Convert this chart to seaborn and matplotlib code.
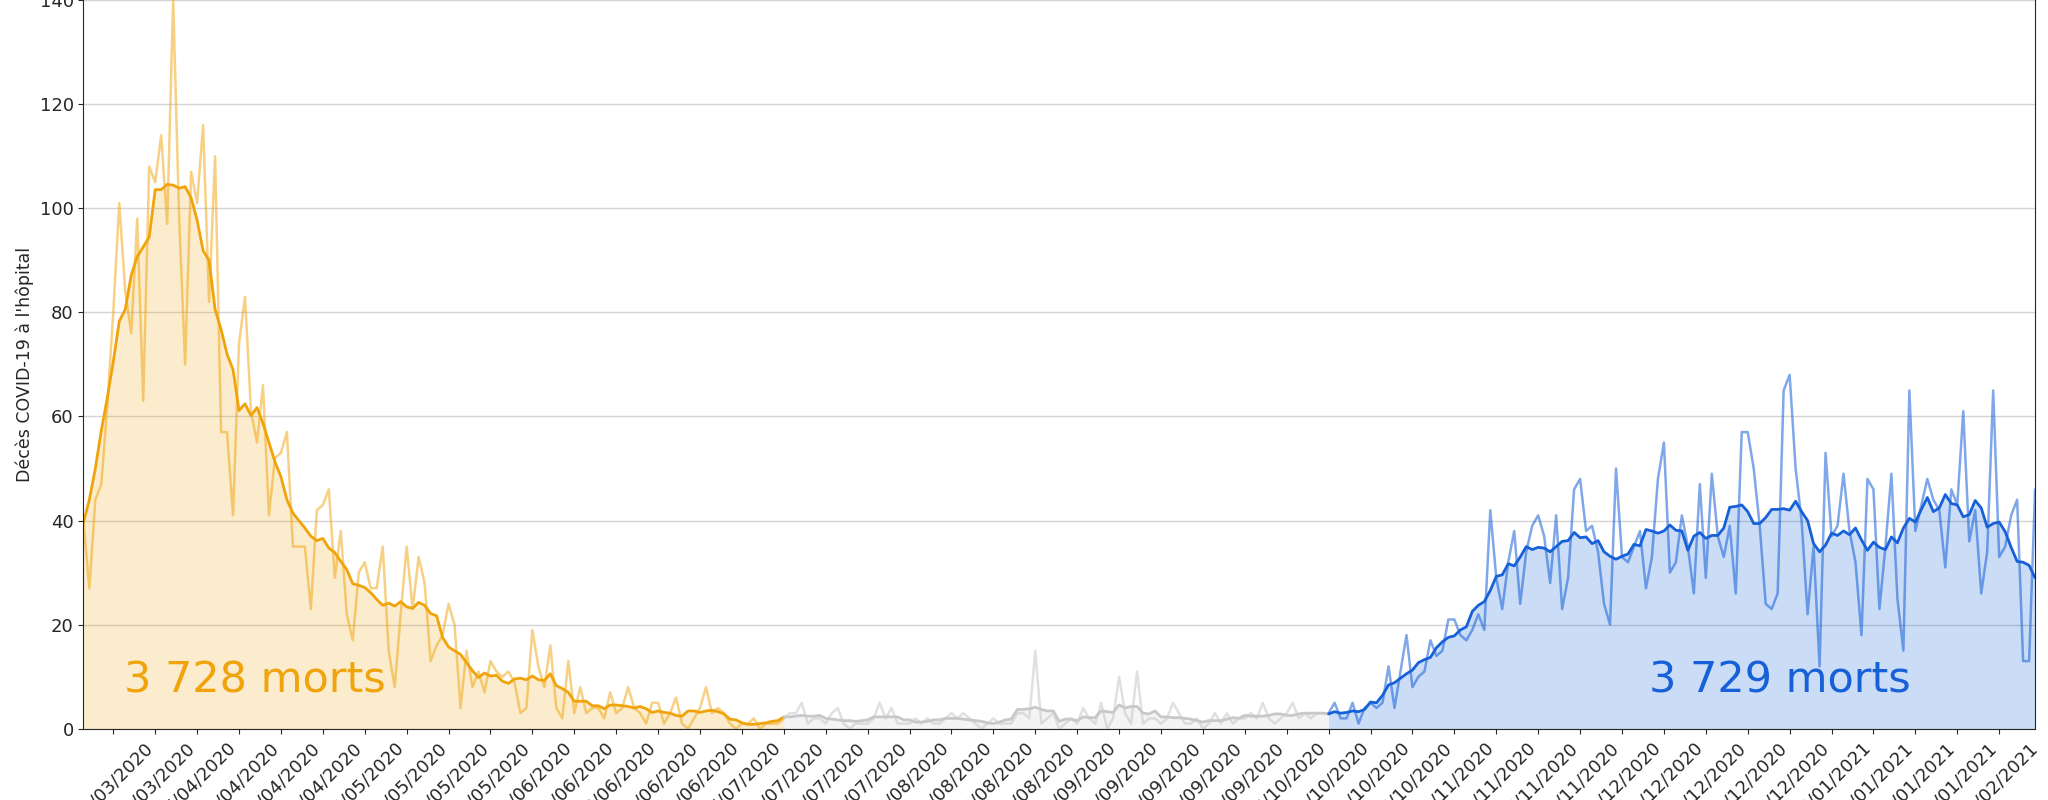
import pandas as pd
import seaborn as sns
import matplotlib
matplotlib.use("Agg")
import matplotlib.pyplot as plt
import matplotlib.dates as mdates

debut = "2020-03-19"

# décès quotidiens à l'hôpital - 1re vague (19/03/2020 -> 14/07/2020)
vague1 = [40, 27, 44, 47, 62, 80, 101, 84, 76, 98,
          63, 108, 105, 114, 97, 140, 98, 70, 107, 101,
          116, 82, 110, 57, 57, 41, 74, 83, 61, 55,
          66, 41, 52, 53, 57, 35, 35, 35, 23, 42,
          43, 46, 29, 38, 22, 17, 30, 32, 27, 27,
          35, 15, 8, 22, 35, 23, 33, 28, 13, 16,
          18, 24, 20, 4, 15, 8, 11, 7, 13, 11,
          10, 11, 9, 3, 4, 19, 12, 8, 16, 4,
          2, 13, 3, 8, 3, 4, 4, 2, 7, 3,
          4, 8, 4, 3, 1, 5, 5, 1, 3, 6,
          1, 0, 2, 4, 8, 3, 4, 3, 1, 0,
          1, 1, 2, 0, 1, 1, 1, 2]
# été (15/07/2020 -> 12/10/2020)
ete = [3, 3, 5, 1, 2, 2, 1, 3, 4, 1,
       0, 1, 1, 1, 2, 5, 2, 4, 1, 1,
       1, 2, 1, 2, 1, 1, 2, 3, 2, 3,
       2, 1, 0, 1, 2, 1, 1, 1, 3, 3,
       2, 15, 1, 2, 3, 0, 1, 2, 1, 4,
       2, 1, 5, 0, 2, 10, 3, 1, 11, 1,
       2, 2, 1, 2, 5, 3, 1, 1, 2, 0,
       1, 3, 1, 3, 1, 2, 2, 3, 2, 5,
       2, 1, 2, 3, 5, 2, 3, 2, 3, 3]
# 2e vague (13/10/2020 -> 08/02/2021)
vague2 = [3, 5, 2, 2, 5, 1, 4, 5, 4, 5,
          12, 4, 11, 18, 8, 10, 11, 17, 14, 15,
          21, 21, 18, 17, 19, 22, 19, 42, 29, 23,
          32, 38, 24, 34, 39, 41, 37, 28, 41, 23,
          29, 46, 48, 38, 39, 34, 24, 20, 50, 33,
          32, 35, 38, 27, 33, 48, 55, 30, 32, 41,
          35, 26, 47, 29, 49, 37, 33, 39, 26, 57,
          57, 50, 39, 24, 23, 26, 65, 68, 50, 40,
          22, 35, 12, 53, 37, 39, 49, 38, 32, 18,
          48, 46, 23, 35, 49, 25, 15, 65, 38, 43,
          48, 44, 42, 31, 46, 43, 61, 36, 42, 26,
          34, 65, 33, 35, 41, 44, 13, 13, 46]

texte_vague1 = "3 728 morts"
texte_vague2 = "3 729 morts"

orange = "#F0A30A"
gris = "#C8C8C8"
bleu = "#1660D8"

deces = vague1 + ete + vague2
df = pd.DataFrame({"date": pd.date_range(debut, periods=len(deces), freq="D"),
                   "deces": deces})
df["moyenne"] = df["deces"].rolling(7, center=True, min_periods=1).mean()

i1 = len(vague1) - 1
i2 = len(vague1) + len(ete)
periodes = [(0, i1, orange, 0.5, 0.2),
            (i1, i2, gris, 0.55, 0.2),
            (i2, len(df) - 1, bleu, 0.55, 0.22)]

sns.set_style("ticks")
fig = plt.figure(figsize=(20.48, 8), dpi=100)
ax = fig.add_axes([0.0407, 0.089, 0.953, 0.911])
ax.grid(axis="y", color="#d4d4d4", lw=1)
ax.set_axisbelow(True)
ax.spines["top"].set_visible(False)

for a, b, c, alpha_brut, alpha_fond in periodes:
    sub = df.iloc[a:b + 1]
    ax.fill_between(sub["date"], 0, sub["moyenne"], color=c, alpha=alpha_fond, lw=0)
    sns.lineplot(data=sub, x="date", y="deces", color=c, alpha=alpha_brut, lw=1.8, ax=ax)
    sns.lineplot(data=sub, x="date", y="moyenne", color=c, lw=2.0, ax=ax)

ax.text(df["date"].iloc[0] + pd.Timedelta(days=6.8), 7, texte_vague1,
        fontsize=31, color=orange)
ax.text(df["date"].iloc[0] + pd.Timedelta(days=261.5), 7, texte_vague2,
        fontsize=31, color=bleu)

ax.set_xlim(df["date"].iloc[0], df["date"].iloc[-1])
ax.set_ylim(0, 140)
ax.xaxis.set_major_locator(mdates.WeekdayLocator(byweekday=mdates.TU))
ax.xaxis.set_major_formatter(mdates.DateFormatter("%d/%m/%Y"))
plt.setp(ax.get_xticklabels(), rotation=45, fontsize=13)
plt.setp(ax.get_yticklabels(), fontsize=13)
ax.set_xlabel("")
ax.set_ylabel("Décès COVID-19 à l'hôpital", fontsize=12.5)

fig.savefig("out.png", dpi=100)
